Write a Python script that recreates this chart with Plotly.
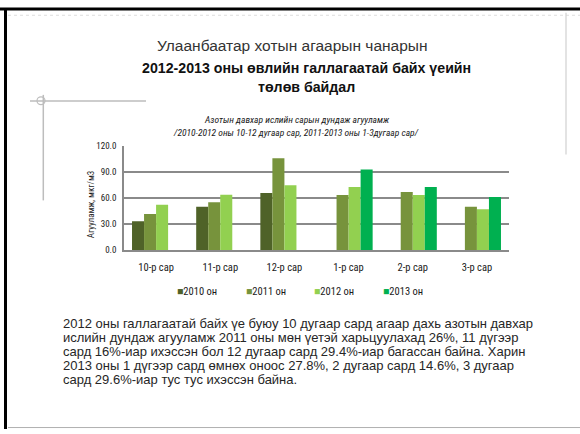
import plotly.graph_objects as go

# Monthly mean NO2 concentration, Ulaanbaatar heating season
months = ["10-р сар", "11-р сар", "12-р сар", "1-р сар", "2-р сар", "3-р сар"]
series_names = ["2010 он", "2011 он", "2012 он", "2013 он"]
values_2010 = [33.3, 50.0, 65.6, None, None, None]
values_2011 = [41.5, 55.2, 105.6, 63.3, 66.7, 50.0]
values_2012 = [52.2, 63.6, 74.5, 72.5, 63.3, 47.0]
values_2013 = [None, None, None, 92.7, 72.6, 61.0]
series_colors = ["#4F6228", "#77933C", "#92D050", "#00B050"]
y_ticks = [0, 30, 60, 90, 120]

W, H = 580, 434


def px(x):
    return x / W


def py(y):
    return 1 - y / H


narrow = "Liberation Sans Narrow, Arial Narrow, Roboto Condensed, PT Sans Narrow, sans-serif"
sans = "Liberation Sans, Arial, sans-serif"

fig = go.Figure()
for name, vals, col in zip(series_names,
                           [values_2010, values_2011, values_2012, values_2013],
                           series_colors):
    fig.add_trace(go.Bar(x=months, y=vals, name=name, marker_color=col,
                         marker_line_width=0, showlegend=False))

fig.update_layout(
    width=W, height=H,
    margin=dict(l=0, r=0, t=0, b=0),
    paper_bgcolor="white", plot_bgcolor="white",
    barmode="group", bargap=0.25, bargroupgap=0,
    xaxis=dict(domain=[px(124), px(509)], showgrid=False, showline=True,
               linecolor="#8a8a8a", linewidth=1.5, ticks="",
               tickfont=dict(family=narrow, size=10.5, color="#1a1a1a"),
               ticklabelstandoff=6, anchor="y"),
    yaxis=dict(domain=[py(251), py(144)], range=[0, 120], tickvals=y_ticks,
               ticktext=[f"{v:.1f}" for v in y_ticks], showgrid=True,
               gridcolor="#8a8a8a", gridwidth=1.5, showline=True,
               linecolor="#8a8a8a", linewidth=1.5, zeroline=False,
               tickfont=dict(family=narrow, size=9, color="#1a1a1a"),
               ticklabelstandoff=4),
    showlegend=False,
)

ann = []
# slide heading
ann.append(dict(text="Улаанбаатар хотын агаарын чанарын", x=px(292), y=py(41),
                font=dict(family=sans, size=15.5, color="#333333")))
ann.append(dict(text="<b>2012-2013 оны өвлийн галлагаатай байх үеийн</b>", x=px(306), y=py(64),
                font=dict(family=sans, size=14.2, color="#111111")))
ann.append(dict(text="<b>төлөв байдал</b>", x=px(306), y=py(84),
                font=dict(family=sans, size=14.2, color="#111111")))
# chart title
ann.append(dict(text="<i>Азотын давхар ислийн сарын дундаж агууламж</i>", x=px(297), y=py(117),
                font=dict(family=narrow, size=9.5, color="#1a1a1a")))
ann.append(dict(text="<i>/2010-2012 оны 10-12 дугаар сар, 2011-2013 оны 1-3дугаар сар/</i>",
                x=px(296), y=py(130), font=dict(family=narrow, size=9.5, color="#1a1a1a")))
# y-axis title
ann.append(dict(text="Агууламж, мкг/м3", x=px(91), y=py(205), textangle=-90,
                font=dict(family=narrow, size=9, color="#1a1a1a")))
# legend
legend_x = [176, 245, 313, 382]
for name, col, lx in zip(series_names, series_colors, legend_x):
    ann.append(dict(text=f"<span style='color:{col}'>■</span>{name}", x=px(lx), y=py(293),
                    xanchor="left", font=dict(family=narrow, size=10.5, color="#1a1a1a")))

# body text (justified paragraph)
body = [
    "2012 оны галлагаатай байх үе буюу 10 дугаар сард агаар дахь азотын давхар",
    "ислийн дундаж агууламж 2011 оны мөн үетэй харьцуулахад 26%, 11 дүгээр",
    "сард 16%-иар ихэссэн бол 12 дугаар сард 29.4%-иар багассан байна. Харин",
    "2013 оны 1 дүгээр сард өмнөх оноос 27.8%, 2 дугаар сард 14.6%, 3 дугаар",
    "сард 29.6%-иар тус тус ихэссэн байна.",
]
body_size = 13
body_left, body_right = 62, 523
width_fudge = 1.02

# approximate advance widths (per 1000 em) of Liberation Sans glyphs
glyph_w = {
    "а": 556, "б": 573, "в": 531, "г": 365, "д": 583, "е": 556, "ж": 669, "з": 458,
    "и": 559, "й": 559, "к": 438, "л": 583, "м": 688, "н": 552, "о": 556, "п": 542,
    "р": 556, "с": 500, "т": 458, "у": 500, "ф": 823, "х": 500, "ц": 573, "ч": 521,
    "ш": 802, "щ": 823, "ъ": 625, "ы": 719, "ь": 521, "э": 510, "ю": 750, "я": 542,
    "ө": 556, "ү": 500, "Х": 667, "%": 889, "-": 333, ".": 278, ",": 278, " ": 278,
}


def word_width(w):
    return sum(glyph_w.get(c, 556) for c in w) * body_size / 1000 * width_fudge


def body_ann(text, x, y, anchor):
    return dict(text=text, x=px(x), y=py(y), xanchor=anchor,
                font=dict(family=sans, size=body_size, color="#262626"))


for i, line in enumerate(body):
    y = 326 + i * 14.4
    words = line.split(" ")
    widths = [word_width(w) for w in words]
    gap = (body_right - body_left - sum(widths)) / max(len(words) - 1, 1)
    if i == len(body) - 1 or gap < 4:
        ann.append(body_ann(line, body_left, y, "left"))
        continue
    x = body_left
    for j, (w, ww) in enumerate(zip(words, widths)):
        if j == len(words) - 1:
            ann.append(body_ann(w, body_right, y, "right"))
        else:
            ann.append(body_ann(w, x, y, "left"))
        x += ww + gap

for a in ann:
    a.setdefault("xanchor", "center")
    a.update(xref="paper", yref="paper", yanchor="middle", showarrow=False, borderpad=0)
fig.update_layout(annotations=ann)

# slide frame and decorations
shapes = [
    dict(type="line", x0=px(0), x1=px(W), y0=py(4), y1=py(4), line=dict(color="black", width=3)),
    dict(type="line", x0=px(5.5), x1=px(5.5), y0=py(3), y1=py(H), line=dict(color="black", width=3)),
    dict(type="line", x0=px(8), x1=px(W), y0=py(432.5), y1=py(432.5), line=dict(color="#b0b0b0", width=1)),
    dict(type="line", x0=px(8), x1=px(W), y0=py(10.5), y1=py(10.5),
         line=dict(color="#dddddd", width=1, dash="dot")),
    dict(type="line", x0=px(566), x1=px(566), y0=py(8), y1=py(153), line=dict(color="#d0d0d0", width=1.2)),
    dict(type="line", x0=px(30), x1=px(146), y0=py(98.3), y1=py(98.3), line=dict(color="#bdbdbd", width=1.5)),
    dict(type="line", x0=px(43.3), x1=px(43.3), y0=py(92), y1=py(200), line=dict(color="#bdbdbd", width=1.5)),
    dict(type="circle", x0=px(37), x1=px(45), y0=py(94), y1=py(102), line=dict(color="#bdbdbd", width=1.2)),
]
for s in shapes:
    s.update(xref="paper", yref="paper", layer="above")
fig.update_layout(shapes=shapes)

fig.write_html("out.html")
